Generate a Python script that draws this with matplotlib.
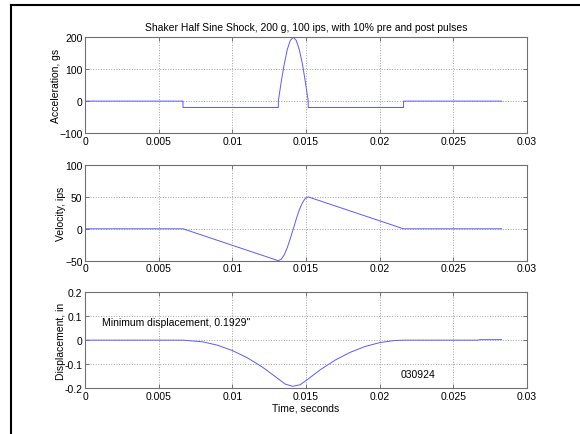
import matplotlib
matplotlib.use('Agg')
import matplotlib.pyplot as plt
from matplotlib.lines import Line2D

plt.rcParams['font.family'] = ['Liberation Sans', 'DejaVu Sans']

# acceleration, g (pre pulse, half sine, post pulse)
acc_t = [0, 0.00664, 0.00664, 0.01312, 0.01312, 0.01332, 0.01353, 0.01373, 0.01393,
         0.01414, 0.01434, 0.01454, 0.01475, 0.01495, 0.01515, 0.01515, 0.02163, 0.02163, 0.02830]
acc_g = [0, 0, -20, -20, 0, 62, 118, 162, 190,
         200, 190, 162, 118, 62, 0, -20, -20, 0, 0]

# velocity, ips
vel_t = [0, 0.00664, 0.01312, 0.01332, 0.01353, 0.01373, 0.01393, 0.01414,
         0.01434, 0.01454, 0.01475, 0.01495, 0.01515, 0.02163, 0.02830]
vel_ips = [0, 0, -50, -47.6, -40.5, -29.4, -15.5, 0,
           15.5, 29.4, 40.5, 47.6, 50, 0, 0]

# displacement, in
dis_t = [0, 0.00664, 0.008, 0.009, 0.010, 0.011, 0.012, 0.01312, 0.0136, 0.0141,
         0.0146, 0.01515, 0.016, 0.017, 0.018, 0.019, 0.020, 0.021, 0.02163,
         0.0267, 0.0268, 0.0283]
dis_in = [0, 0, -0.0071, -0.0215, -0.0436, -0.0734, -0.1109, -0.1621, -0.184, -0.1929,
          -0.1866, -0.1621, -0.1224, -0.0828, -0.051, -0.0268, -0.0104, -0.0017, 0,
          0, 0.002, 0.002]

line_color = '#5a5aff'
W, H = 580, 435
fig = plt.figure(figsize=(5.8, 4.35), dpi=100)

# partial border of the original window
fig.add_artist(Line2D([11 / W, 1], [1 - 6 / H, 1 - 6 / H], color='black', lw=1.5))
fig.add_artist(Line2D([11 / W, 11 / W], [0, 1 - 6 / H], color='black', lw=1.5))


def make_axes(top, bottom):
    left, right = 85.3, 526.7
    ax = fig.add_axes([left / W, 1 - bottom / H, (right - left) / W, (bottom - top) / H])
    ax.set_xlim(0, 0.03)
    ax.set_xticks([0, 0.005, 0.01, 0.015, 0.02, 0.025, 0.03])
    ax.set_xticklabels(['0', '0.005', '0.01', '0.015', '0.02', '0.025', '0.03'])
    ax.grid(True, color='#a0a0a0', linestyle=':', linewidth=0.7)
    ax.tick_params(direction='in', top=True, right=True, length=3, width=0.6,
                   labelsize=7.5, pad=2, color='#606060')
    for s in ax.spines.values():
        s.set_color('#707070')
        s.set_linewidth(0.8)
    return ax


ax1 = make_axes(38.3, 134)
ax1.plot(acc_t, acc_g, color=line_color, lw=0.7)
ax1.set_ylim(-100, 200)
ax1.set_yticks([-100, 0, 100, 200])
ax1.set_ylabel('Acceleration, gs', fontsize=7.5, labelpad=-1)
ax1.set_title('Shaker Half Sine Shock, 200 g, 100 ips, with 10% pre and post pulses',
              fontsize=7.5, pad=5)

ax2 = make_axes(166, 261.7)
ax2.plot(vel_t, vel_ips, color=line_color, lw=0.7)
ax2.set_ylim(-50, 100)
ax2.set_yticks([-50, 0, 50, 100])
ax2.set_ylabel('Velocity, ips', fontsize=7.5, labelpad=-1)

ax3 = make_axes(293.3, 389)
ax3.plot(dis_t, dis_in, color=line_color, lw=0.7)
ax3.set_ylim(-0.2, 0.2)
ax3.set_yticks([-0.2, -0.1, 0, 0.1, 0.2])
ax3.set_yticklabels(['-0.2', '-0.1', '0', '0.1', '0.2'])
ax3.set_ylabel('Displacement, in', fontsize=7.5, labelpad=-1)
ax3.set_xlabel('Time, seconds', fontsize=7.5, labelpad=1)
ax3.text(0.00111, 0.075, 'Minimum displacement, 0.1929"', fontsize=7.5, va='center')
ax3.text(0.02144, -0.141, '030924', fontsize=7.5, va='center')

fig.savefig('out.png', dpi=100)
